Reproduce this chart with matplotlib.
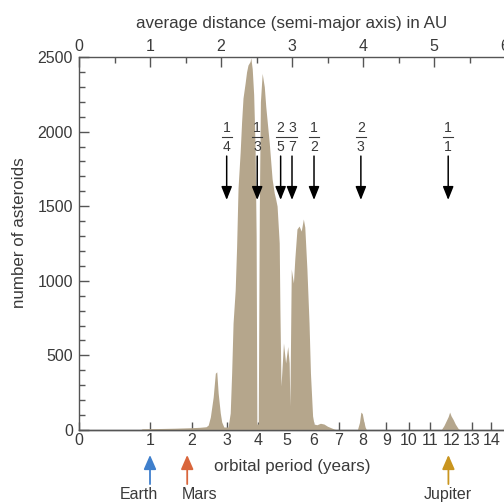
import numpy as np
import matplotlib
matplotlib.use("Agg")
import matplotlib.pyplot as plt
from matplotlib.ticker import MultipleLocator

# asteroid counts, by semi-major axis (AU)
dist_au = [0.86, 0.89, 1.14, 1.35, 1.56, 1.70, 1.79, 1.82, 1.85, 1.89, 1.92, 1.94,
           1.96, 1.99, 2.01, 2.04, 2.10, 2.13, 2.15, 2.17, 2.20, 2.22, 2.24, 2.27,
           2.29, 2.31, 2.34, 2.36, 2.38, 2.41, 2.42, 2.44, 2.46, 2.48, 2.495, 2.505,
           2.525, 2.54, 2.555, 2.58, 2.61, 2.63, 2.68, 2.72, 2.75, 2.77, 2.79, 2.82,
           2.83, 2.845, 2.87, 2.88, 2.91, 2.94, 2.96, 2.97, 2.99, 3.02, 3.04, 3.07,
           3.10, 3.13, 3.16, 3.18, 3.21, 3.24, 3.26, 3.29, 3.31, 3.35, 3.40, 3.45,
           3.50, 3.55, 3.60, 3.65, 3.92, 3.95, 3.97, 3.99, 4.01, 4.03, 4.05, 5.10,
           5.14, 5.17, 5.20, 5.22, 5.24, 5.27, 5.30, 5.34, 5.37]
counts = [0, 8, 10, 12, 15, 18, 22, 33, 87, 221, 380, 390,
          248, 114, 54, 20, 20, 114, 380, 717, 938, 1230, 1622, 1863,
          2064, 2225, 2326, 2400, 2446, 2470, 2495, 2420, 2250, 1900, 1300, 40,
          40, 1500, 2200, 2390, 2300, 2171, 1923, 1682, 1588, 1548, 1501, 1253,
          800, 295, 500, 583, 449, 560, 450, 160, 1079, 985, 1150, 1347,
          1367, 1333, 1414, 1360, 1079, 717, 380, 94, 40, 35, 45, 40,
          25, 15, 5, 0, 0, 50, 120, 110, 60, 20, 0, 0,
          30, 60, 90, 120, 95, 70, 40, 10, 0]

# resonances with Jupiter: fraction of Jupiter's period, arrow position (AU)
res_num = [1, 1, 2, 3, 1, 2, 1]
res_den = [4, 3, 5, 7, 2, 3, 1]
res_au = [2.08, 2.51, 2.84, 3.00, 3.31, 3.97, 5.20]

planets = ["Earth", "Mars", "Jupiter"]
planet_au = [1.0, 1.524, 5.203]
planet_label_au = [0.84, 1.70, 5.20]
planet_colors = ["#3f7fcc", "#d9663c", "#c9951f"]

period_ticks = list(range(0, 15))
au_ticks = list(range(0, 7))

plt.rcParams["font.family"] = ["Liberation Sans", "DejaVu Sans"]
txt = "#3a3a3a"
spine_c = "#555555"
fs = 16
fs_lab = 17

fig = plt.figure(figsize=(7, 7), dpi=72)
ax = fig.add_axes([79 / 504, 74 / 504, 426 / 504, 373 / 504])

ax.fill_between(dist_au, counts, color="#b5a68c", lw=0, zorder=1)

ax.set_xlim(0, 6)
ax.set_ylim(0, 2500)

for side in ["left", "top", "bottom"]:
    ax.spines[side].set_color(spine_c)
    ax.spines[side].set_linewidth(1.4)
ax.spines["right"].set_visible(False)

ax.xaxis.tick_top()
ax.set_xticks(au_ticks)
ax.xaxis.set_minor_locator(MultipleLocator(0.5))
ax.yaxis.set_major_locator(MultipleLocator(500))
ax.yaxis.set_minor_locator(MultipleLocator(100))
ax.tick_params(axis="both", which="both", direction="in", color=spine_c,
               labelcolor=txt, labelsize=fs, width=1.4)
ax.tick_params(axis="both", which="major", length=10)
ax.tick_params(axis="both", which="minor", length=6)
ax.tick_params(axis="x", which="both", bottom=False, top=True,
               labelbottom=False, labeltop=True, pad=3)
ax.tick_params(axis="y", right=False, pad=6)
ax.xaxis.set_label_position("top")
ax.set_xlabel("average distance (semi-major axis) in AU", fontsize=fs_lab,
              color=txt, labelpad=11)
ax.set_ylabel("number of asteroids", fontsize=fs_lab, color=txt)
ax.yaxis.set_label_coords(-0.122, 0.53)


def au_to_years(a):
    a = np.asarray(a, dtype=float)
    return np.sign(a) * np.abs(a) ** 1.5


def years_to_au(p):
    p = np.asarray(p, dtype=float)
    return np.sign(p) * np.abs(p) ** (2.0 / 3.0)


sec = ax.secondary_xaxis("bottom", functions=(au_to_years, years_to_au))
sec.set_xticks(period_ticks)
sec.spines["bottom"].set_color(spine_c)
sec.spines["bottom"].set_linewidth(1.4)
sec.tick_params(direction="in", length=8, width=1.4, color=spine_c,
                labelcolor=txt, labelsize=fs, pad=3)
sec.set_xlabel("orbital period (years)", fontsize=fs_lab, color=txt, labelpad=11)

# resonance arrows
for n, d, a in zip(res_num, res_den, res_au):
    ax.text(a, 2025, str(n), ha="center", va="center", fontsize=14, color=txt, zorder=4)
    ax.plot([a - 0.07, a + 0.07], [1966, 1966], color=txt, lw=1.1, zorder=4)
    ax.text(a, 1900, str(d), ha="center", va="center", fontsize=14, color=txt, zorder=4)
    ax.annotate("", xy=(a, 1542), xytext=(a, 1836),
                arrowprops=dict(arrowstyle="-|>,head_length=0.75,head_width=0.3",
                                color="black", lw=1.5, mutation_scale=15,
                                shrinkA=0, shrinkB=0), zorder=5)

# planet arrows below the axis
for name, a, la, c in zip(planets, planet_au, planet_label_au, planet_colors):
    ax.annotate("", xy=(a, -0.067), xytext=(a, -0.145),
                xycoords=("data", "axes fraction"), textcoords=("data", "axes fraction"),
                arrowprops=dict(arrowstyle="-|>,head_length=0.8,head_width=0.35",
                                color=c, lw=1.8, mutation_scale=15,
                                shrinkA=0, shrinkB=0), annotation_clip=False)
    ax.text(la, -0.174, name, transform=ax.get_xaxis_transform(), ha="center",
            va="center", fontsize=fs, color=txt)

fig.savefig("out.png", dpi=72)
